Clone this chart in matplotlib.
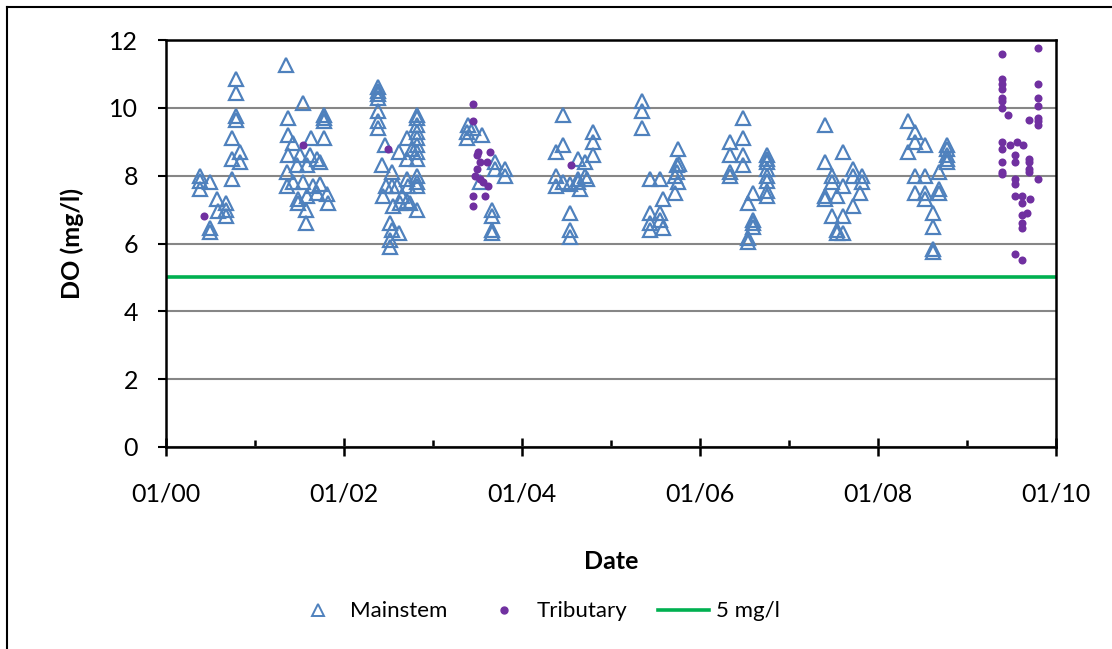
#!/usr/bin/env python
# -*- coding: utf-8 -*-
"""DO scatter, mainstem vs tributary"""

import numpy as np
import pandas as pd
import matplotlib as mpl
mpl.use("Agg")
import matplotlib.pyplot as plt
import matplotlib.dates as mdates
from matplotlib.lines import Line2D

plt.rcParams['font.family'] = ['Lato', 'DejaVu Sans']

# sample times as years after 01/2000, DO in mg/l
main_year = [
    0.38, 0.38, 0.38, 0.49, 0.49, 0.49, 0.57, 0.58, 0.67, 0.67, 0.67,
    0.79, 0.79, 0.79, 0.79, 0.74, 0.74, 0.74, 0.83, 0.83,
    1.35, 1.54, 1.37, 1.78, 1.78, 1.78, 1.37, 1.63, 1.78, 1.43, 1.37,
    1.51, 1.62, 1.70, 1.73, 1.47, 1.58, 1.36, 1.36, 1.43, 1.54, 1.65,
    1.73, 1.48, 1.48, 1.58, 1.70, 1.81, 1.82, 1.57, 1.57,
    2.38, 2.38, 2.38, 2.38, 2.38, 2.38, 2.38, 2.46, 2.43, 2.54, 2.47,
    2.44, 2.54, 2.60, 2.55, 2.63, 2.71, 2.52, 2.54, 2.62, 2.52, 2.52,
    2.82, 2.82, 2.82, 2.82, 2.82, 2.82, 2.82, 2.82, 2.82, 2.82, 2.82,
    2.71, 2.62, 2.71, 2.76, 2.71, 2.72, 2.65, 2.82, 2.74,
    3.39, 3.38, 3.38, 3.45, 3.55, 3.70, 3.70, 3.81, 3.81, 3.53,
    3.66, 3.66, 3.66, 3.66,
    4.46, 4.46, 4.38, 4.63, 4.71, 4.80, 4.80, 4.80, 4.38, 4.38, 4.46,
    4.54, 4.63, 4.65, 4.71, 4.73, 4.63, 4.54, 4.54, 4.54,
    5.35, 5.35, 5.35, 5.44, 5.55, 5.58, 5.55, 5.55, 5.44, 5.44, 5.44,
    5.58, 5.75, 5.74, 5.76, 5.74, 5.72, 5.75, 5.72,
    6.48, 6.34, 6.48, 6.34, 6.48, 6.48, 6.34, 6.34, 6.60, 6.54, 6.60,
    6.60, 6.60, 6.54, 6.54,
    6.75, 6.75, 6.75, 6.75, 6.75, 6.75, 6.75, 6.75,
    7.40, 7.61, 7.40, 7.48, 7.48, 7.40, 7.40, 7.54, 7.61, 7.72, 7.82,
    7.82, 7.80, 7.72, 7.72, 7.48, 7.61, 7.54, 7.54, 7.61,
    8.34, 8.42, 8.42, 8.53, 8.34, 8.78, 8.78, 8.78, 8.78, 8.78, 8.69,
    8.42, 8.53, 8.42, 8.53, 8.53, 8.69, 8.69, 8.62, 8.62, 8.62, 8.62,
]
main_do = [
    8.0, 7.85, 7.6, 7.8, 6.45, 6.35, 7.3, 6.95, 7.2, 7.0, 6.8,
    10.85, 10.45, 9.75, 9.65, 9.1, 8.5, 7.9, 8.7, 8.4,
    11.25, 10.15, 9.7, 9.8, 9.7, 9.6, 9.2, 9.1, 9.1, 8.95, 8.6,
    8.6, 8.6, 8.5, 8.4, 8.3, 8.3, 8.1, 7.7, 7.8, 7.8, 7.7,
    7.75, 7.3, 7.2, 7.4, 7.5, 7.45, 7.2, 7.0, 6.6,
    10.6, 10.5, 10.4, 10.3, 9.9, 9.6, 9.4, 8.9, 8.3, 8.1, 7.7,
    7.4, 7.7, 7.7, 7.1, 7.2, 7.25, 6.6, 6.4, 6.3, 6.1, 5.9,
    9.8, 9.7, 9.5, 9.3, 9.1, 8.9, 8.7, 8.5, 8.0, 7.8, 7.7,
    9.1, 8.7, 8.5, 8.8, 7.9, 7.7, 7.4, 7.0, 7.2,
    9.5, 9.3, 9.1, 9.4, 9.2, 8.4, 8.2, 8.2, 8.0, 7.8,
    7.0, 6.8, 6.4, 6.3,
    9.8, 8.9, 8.7, 8.5, 8.4, 9.3, 9.0, 8.6, 8.0, 7.7, 7.8,
    7.75, 7.8, 7.6, 8.0, 7.9, 7.9, 6.9, 6.4, 6.2,
    10.2, 9.9, 9.4, 7.9, 7.9, 7.3, 6.9, 6.7, 6.9, 6.6, 6.4,
    6.45, 8.8, 8.3, 8.35, 8.1, 8.0, 7.8, 7.5,
    9.7, 9.0, 9.1, 8.6, 8.6, 8.3, 8.1, 8.0, 7.5, 7.2, 6.7,
    6.6, 6.5, 6.15, 6.05,
    8.6, 8.5, 8.4, 8.2, 8.0, 7.85, 7.55, 7.4,
    9.5, 8.7, 8.4, 8.0, 7.8, 7.4, 7.3, 7.4, 7.7, 8.2, 8.0,
    7.8, 7.5, 7.1, 8.0, 6.8, 6.8, 6.4, 6.3, 6.3,
    9.6, 9.3, 9.0, 8.9, 8.7, 8.9, 8.8, 8.6, 8.5, 8.4, 8.1,
    8.0, 8.0, 7.5, 7.5, 7.3, 7.5, 7.6, 6.9, 6.5, 5.85, 5.75,
]

trib_year = [
    0.43, 1.54, 2.49,
    3.45, 3.45, 3.51, 3.64, 3.49, 3.61, 3.53, 3.49, 3.47, 3.53, 3.56,
    3.62, 3.45, 3.58, 3.45,
    4.55,
    9.39, 9.39, 9.39, 9.39, 9.39, 9.39, 9.39, 9.46, 9.39, 9.48, 9.56,
    9.63, 9.39, 9.54, 9.39, 9.54, 9.39, 9.39, 9.54, 9.54, 9.54, 9.62,
    9.71, 9.62, 9.67, 9.62, 9.62, 9.62, 9.54, 9.62,
    9.70, 9.70, 9.70, 9.70,
    9.80, 9.80, 9.80, 9.80, 9.80, 9.80, 9.80, 9.80, 9.70,
]
trib_do = [
    6.8, 8.9, 8.8,
    10.1, 9.6, 8.7, 8.7, 8.6, 8.4, 8.4, 8.2, 8.0, 7.9, 7.8,
    7.7, 7.4, 7.4, 7.1,
    8.3,
    11.6, 10.85, 10.7, 10.55, 10.3, 10.2, 10.0, 9.8, 9.0, 8.9, 9.0,
    8.9, 8.8, 8.6, 8.4, 8.4, 8.1, 8.05, 7.9, 7.75, 7.4, 7.4,
    7.3, 7.2, 6.9, 6.85, 6.6, 6.45, 5.7, 5.5,
    8.5, 8.4, 8.2, 8.1,
    11.75, 10.7, 10.3, 10.05, 9.7, 9.6, 9.5, 7.9, 9.65,
]

do_standard = 5.0
y_ticks = [0, 2, 4, 6, 8, 10, 12]

START = pd.Timestamp('2000-01-01')
END = pd.Timestamp('2010-01-01')


def to_dates(years):
    return START + pd.to_timedelta(np.array(years) * 365.25, unit='D')


fig = plt.figure(figsize=(11.12, 6.49), dpi=100)
ax = fig.add_axes([166 / 1112., 1 - 447 / 649., 890 / 1112., 407 / 649.])

ax.set_xlim(START, END)
ax.set_ylim(0, 12)
ax.set_yticks(y_ticks)
ax.yaxis.grid(True, color='#868686', lw=1.5)
ax.set_axisbelow(True)

ax.axhline(do_standard, color='#00B050', lw=2.6, zorder=2)
ax.plot(to_dates(main_year), main_do, ls='none', marker='^', ms=10.5,
        mfc='none', mec='#4F81BD', mew=1.6, zorder=3)
ax.plot(to_dates(trib_year), trib_do, ls='none', marker='o', ms=5.8,
        mfc='#7030A0', mec='#7030A0', mew=0, zorder=4)

ax.xaxis.set_major_locator(mdates.YearLocator(2))
ax.xaxis.set_minor_locator(mdates.YearLocator(1))
ax.xaxis.set_major_formatter(mdates.DateFormatter('%m/%y'))

for s in ax.spines.values():
    s.set_linewidth(1.8)
    s.set_color('black')

ax.tick_params(axis='x', which='major', direction='inout', length=13,
               width=1.8, pad=19, labelsize=18)
ax.tick_params(axis='x', which='minor', direction='in', length=5, width=1.8)
ax.tick_params(axis='y', direction='out', length=6, width=1.5, pad=14,
               labelsize=18)

ax.set_xlabel('Date', fontsize=18, fontweight='bold', labelpad=32)
ax.set_ylabel('DO (mg/l)', fontsize=18, fontweight='bold', labelpad=18)

handles = [
    Line2D([], [], ls='none', marker='^', ms=8, mfc='none', mec='#4F81BD',
           mew=1.4),
    Line2D([], [], ls='none', marker='o', ms=5, mfc='#7030A0', mec='#7030A0'),
    Line2D([], [], color='#00B050', lw=2.6),
]
fig.legend(handles, ['Mainstem', 'Tributary', '5 mg/l'], loc='center',
           bbox_to_anchor=(0.482, 0.058), ncol=3, frameon=False, fontsize=16,
           handlelength=2.3, handletextpad=0.3, columnspacing=1.4)

# chart area border (top and left edges visible)
fig.add_artist(Line2D([7 / 1112., 1.0], [1 - 7 / 649., 1 - 7 / 649.],
                      transform=fig.transFigure, color='black', lw=1.5))
fig.add_artist(Line2D([7 / 1112., 7 / 1112.], [0.0, 1 - 7 / 649.],
                      transform=fig.transFigure, color='black', lw=1.5))

fig.savefig('out.png', dpi=100)
